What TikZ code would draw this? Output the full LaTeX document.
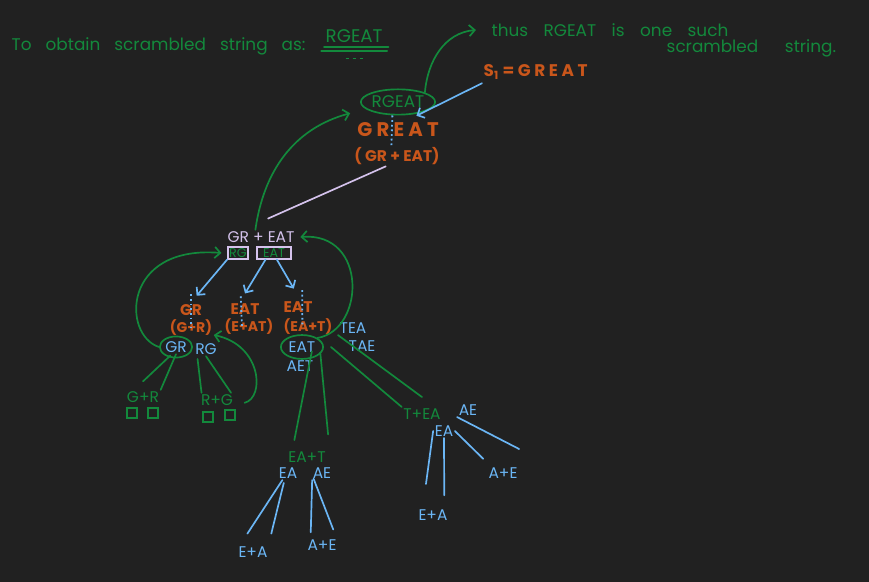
\documentclass[tikz,border=0pt]{standalone}
\usepackage{fontspec}
\setmainfont{Poppins}
\usetikzlibrary{arrows.meta,shapes.geometric}
\definecolor{board}{HTML}{212121}
\definecolor{pen}{HTML}{13893C}
\definecolor{rust}{HTML}{C9561B}
\definecolor{sky}{HTML}{6BB6F5}
\definecolor{lilac}{HTML}{D4C2EC}
\tikzset{
    hand/.style={inner sep=1pt, font=\fontsize{11}{13}\selectfont},
    bold/.style={hand, rust, font=\fontsize{11}{13}\selectfont\bfseries},
    ink/.style={line width=1.2pt, line cap=round},
    barb/.style={ink, -{Straight Barb[length=4pt,width=8pt]}},
    dots/.style={sky, line width=1.3pt, dotted},
    ring/.style={ellipse, draw=pen, line width=1.2pt, inner sep=0pt},
    blank/.style={draw=pen, line width=1pt, minimum size=7pt, inner sep=0pt},
}
\begin{document}
\begin{tikzpicture}[x=0.025cm, y=-0.025cm]
    \fill[board] (0,0) rectangle (869,582);
    \node[hand, pen, anchor=west, font=\fontsize{12}{14}\selectfont] (intro) at (10,46) {\spaceskip=10pt To obtain scrambled string as:};
    \node[hand, pen, anchor=west, font=\fontsize{13}{15}\selectfont] (target) at (324,36) {RGEAT};
    \draw[pen, ink] ([yshift=-2pt]target.south west) -- ([yshift=-2pt,xshift=3pt]target.south east);
    \draw[pen, ink] ([yshift=-5pt,xshift=-2pt]target.south west) -- ([yshift=-5pt,xshift=2pt]target.south east);
    \draw[pen, line width=1pt, dash pattern=on 2pt off 3pt] ([yshift=-10pt,xshift=-6pt]target.south) -- ([yshift=-10pt,xshift=8pt]target.south);
    \node[hand, pen, anchor=west, font=\fontsize{12}{14}\selectfont] (thus) at (490,30) {\spaceskip=11pt thus RGEAT is one such};
    \node[hand, pen, anchor=west, font=\fontsize{12}{14}\selectfont] (string) at (665,48) {\spaceskip=19pt scrambled string.};
    \node[bold, anchor=west, font=\fontsize{12}{14}\selectfont\bfseries] (s1) at (482,72) {S\textsubscript{1} = G R E A T};

    \node[hand, pen, ring, minimum width=51pt, minimum height=18pt, font=\fontsize{12}{14}\selectfont] (rgeat) at (398,102) {RGEAT};
    \node[bold, font=\fontsize{14}{16}\selectfont\bfseries] (great) at (398,130) {G R E A T};
    \node[bold] (cut) at (397,156) {( GR + EAT)};
    \draw[dots] ([xshift=-4pt]rgeat.south) -- ([xshift=-4pt]cut.north);
    \draw[pen, barb] (rgeat.north east) to[out=85, in=185] ([xshift=-10pt]thus.west);
    \draw[sky, barb] ([yshift=-8pt]s1.west) -- ([xshift=-6pt,yshift=-3pt]rgeat.south east);

    \node[hand, lilac] (grEat) at (261,237) {GR + EAT};
    \node[hand, pen, draw=lilac, line width=1pt, font=\fontsize{9}{10}\selectfont] (rgbox) at (238,253) {RG};
    \node[hand, pen, draw=lilac, line width=1pt, font=\fontsize{9}{10}\selectfont, minimum width=24pt] (eatbox) at (274,253) {EAT};
    \draw[lilac, ink] ([xshift=-8pt]cut.south) -- ([xshift=5pt,yshift=8pt]grEat.north);
    \draw[pen, barb] ([xshift=-4pt]grEat.north) to[out=82, in=195] ([xshift=-7pt,yshift=-8pt]rgeat.west);

    \node[bold] (grL) at (191,310) {GR};
    \node[bold, font=\fontsize{10}{12}\selectfont\bfseries] (gplusr) at (191,328) {(G+R)};
    \node[bold] (eatM) at (245,309) {EAT};
    \node[bold, font=\fontsize{10}{12}\selectfont\bfseries] (eplusat) at (249,327) {(E+AT)};
    \node[bold] (eatR) at (298,307) {EAT};
    \node[bold, font=\fontsize{10}{12}\selectfont\bfseries] (eaplust) at (308,327) {(EA+T)};
    \draw[dots] ([yshift=6pt]grL.north) -- (gplusr.center);
    \draw[dots] ([xshift=-3pt,yshift=4pt]eatM.north) -- ([xshift=-5pt]eplusat.center);
    \draw[dots] ([xshift=3pt,yshift=7pt]eatR.north) -- ([xshift=-4pt]eaplust.center);
    \draw[sky, barb] (rgbox.south west) -- ([xshift=4pt,yshift=5pt]grL.north);
    \draw[sky, barb] ([xshift=-6pt]eatbox.south) -- ([yshift=6pt]eatM.north);
    \draw[sky, barb] ([xshift=2pt]eatbox.south) -- ([xshift=-3pt,yshift=8pt]eatR.north);

    \node[hand, sky, ring, minimum width=23pt, minimum height=15pt] (grSel) at (176,347) {GR};
    \node[hand, sky] (rg) at (206,349) {RG};
    \node[hand, sky, ring, minimum width=30pt, minimum height=17pt] (eatSel) at (302,347) {EAT};
    \node[hand, sky] (aet) at (300,366) {AET};
    \node[hand, sky] (tea) at (353,328) {TEA};
    \node[hand, sky] (tae) at (362,346) {TAE};
    \draw[pen, barb] (grSel.west) .. controls (122,335) and (122,245) .. ([xshift=-4pt]rgbox.west);
    \draw[pen, barb] (eatSel.north east) .. controls (365,330) and (368,232) .. ([xshift=3pt]grEat.east);

    \node[hand, pen] (gr2) at (143,397) {G+R};
    \node[blank] (sq1) at (132,413) {};
    \node[blank] (sq2) at (153,413) {};
    \node[hand, pen] (rplusg) at (217,400) {R+G};
    \node[blank] (sq3) at (208,417) {};
    \node[blank] (sq4) at (230,415) {};
    \draw[pen, ink] ([xshift=-4pt,yshift=2pt]grSel.south) -- ([yshift=6pt]gr2.north);
    \draw[pen, ink] ([yshift=3pt]grSel.south) -- (gr2.north east);
    \draw[pen, ink] ([xshift=-6pt,yshift=-2pt]rg.south) -- ([xshift=-11pt]rplusg.north);
    \draw[pen, ink] (rg.south) -- ([xshift=10pt]rplusg.north);
    \draw[pen, barb] ([xshift=7pt,yshift=-2pt]rplusg.east) .. controls (265,398) and (262,345) .. ([yshift=-5pt]gplusr.east);

    \node[hand, pen] (eaT) at (307,457) {EA+T};
    \node[hand, sky] (ea1) at (288,473) {EA};
    \node[hand, sky] (ae1) at (322,473) {AE};
    \node[hand, sky] (eplusa1) at (253,552) {E+A};
    \node[hand, sky] (aplus1) at (322,545) {A+E};
    \draw[pen, ink] ([xshift=7pt,yshift=6pt]eatSel.south) -- ([xshift=-9pt,yshift=7pt]eaT.north);
    \draw[pen, ink] ([xshift=13pt,yshift=5pt]eatSel.south) -- ([xshift=15pt,yshift=11pt]eaT.north);
    \draw[sky, ink] ([xshift=-4pt]ea1.south) -- ([xshift=-4pt,yshift=8pt]eplusa1.north);
    \draw[sky, ink] ([xshift=-3pt,yshift=-2pt]ea1.south) -- ([xshift=13pt,yshift=8pt]eplusa1.north);
    \draw[sky, ink] ([xshift=-7pt]ae1.south) -- ([xshift=-8pt,yshift=4pt]aplus1.north);
    \draw[sky, ink] ([xshift=-6pt,yshift=1pt]ae1.south) -- ([xshift=8pt,yshift=6pt]aplus1.north);

    \node[hand, pen] (tEA) at (422,414) {T+EA};
    \node[hand, sky] (ae2) at (468,410) {AE};
    \node[hand, sky] (ea2) at (444,431) {EA};
    \node[hand, sky] (eplusa2) at (433,515) {E+A};
    \node[hand, sky] (aplus2) at (503,473) {A+E};
    \draw[pen, ink] ([xshift=5pt]eatSel.east) -- (tEA.north west);
    \draw[pen, ink] (tea.south west) -- ([yshift=7pt]tEA.north);
    \draw[sky, ink] (ea2.west) -- ([xshift=-5pt,yshift=17pt]eplusa2.north);
    \draw[sky, ink] (ea2.south) -- ([xshift=8pt,yshift=9pt]eplusa2.north);
    \draw[sky, ink] (ea2.east) -- ([xshift=-14pt,yshift=5pt]aplus2.north);
    \draw[sky, ink] (ae2.south west) -- ([yshift=12pt]aplus2.north east);
\end{tikzpicture}
\end{document}
